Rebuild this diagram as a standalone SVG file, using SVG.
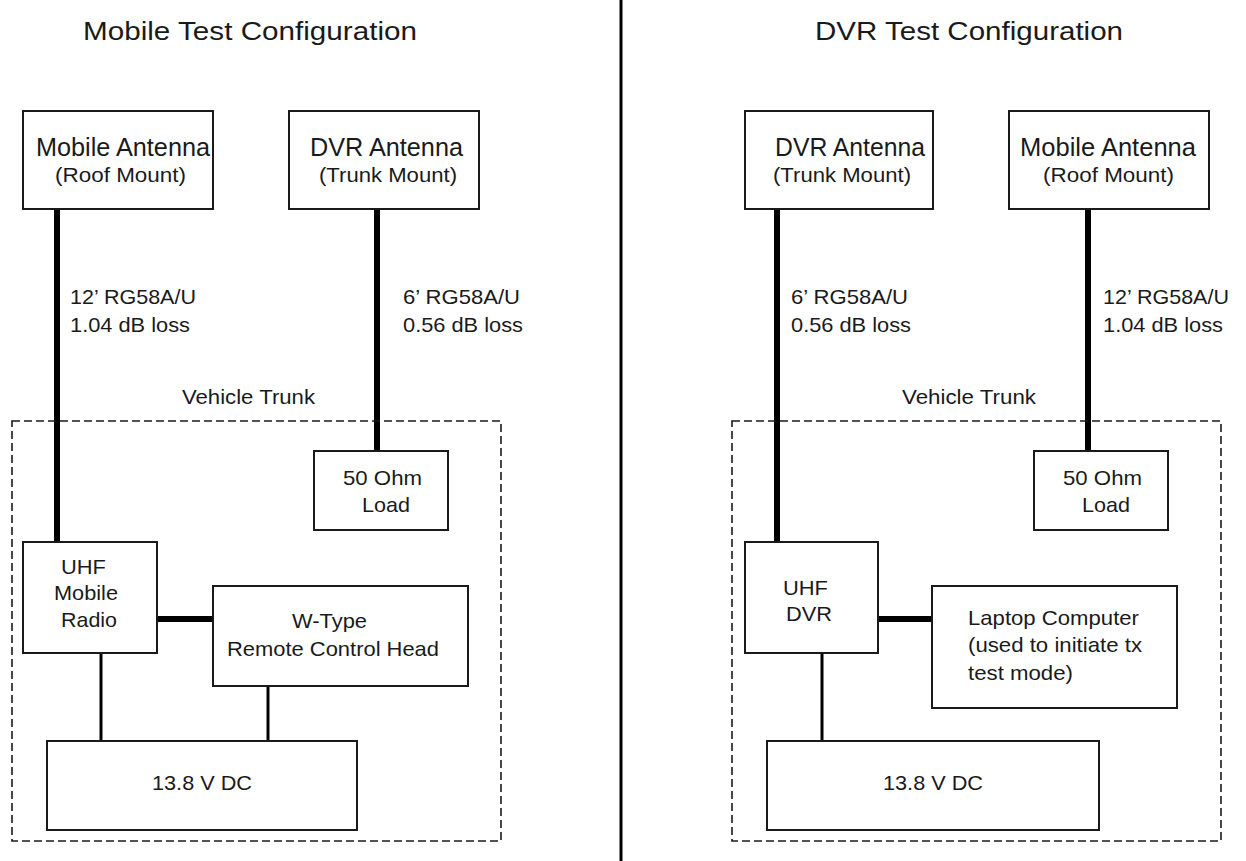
<svg xmlns="http://www.w3.org/2000/svg" width="1246" height="861" viewBox="0 0 1246 861">
<style>
.box{fill:#fff;stroke:#1a1a1a;stroke-width:2}
.trunk{fill:none;stroke:#1a1a1a;stroke-width:1.6;stroke-dasharray:8 4}
.coax{stroke:#000;stroke-width:6;fill:none}
.wire{stroke:#000;stroke-width:3;fill:none}
text{font-family:"Liberation Sans",Arial,sans-serif;fill:#1a1a1a;font-size:21px}
.t{font-size:25px}
.big{font-size:25px}
.sub{font-size:20px}
.mid{font-size:21px}
</style>
<rect width="1246" height="861" fill="#fff"/>
<line x1="621" y1="0" x2="621" y2="861" stroke="#000" stroke-width="3"/>
<text class="t" x="83" y="40" textLength="334" lengthAdjust="spacingAndGlyphs">Mobile Test Configuration</text>
<text class="t" x="815" y="40" textLength="308" lengthAdjust="spacingAndGlyphs">DVR Test Configuration</text>

<g id="connectors">
<line class="coax" x1="57" y1="209" x2="57" y2="542"/>
<line class="coax" x1="377" y1="209" x2="377" y2="451"/>
<line class="coax" x1="157" y1="619" x2="213" y2="619"/>
<line class="wire" x1="101" y1="653" x2="101" y2="741"/>
<line class="wire" x1="268" y1="686" x2="268" y2="741"/>
<line class="coax" x1="777" y1="209" x2="777" y2="542"/>
<line class="coax" x1="1088" y1="209" x2="1088" y2="451"/>
<line class="coax" x1="878" y1="619" x2="932" y2="619"/>
<line class="wire" x1="822" y1="653" x2="822" y2="741"/>
</g>

<g id="cable-labels">
<text class="mid" x="70" y="304" textLength="126" lengthAdjust="spacingAndGlyphs">12’ RG58A/U</text>
<text class="mid" x="70" y="332" textLength="120" lengthAdjust="spacingAndGlyphs">1.04 dB loss</text>
<text class="mid" x="403" y="304" textLength="117" lengthAdjust="spacingAndGlyphs">6’ RG58A/U</text>
<text class="mid" x="403" y="332" textLength="120" lengthAdjust="spacingAndGlyphs">0.56 dB loss</text>
<text class="mid" x="791" y="304" textLength="117" lengthAdjust="spacingAndGlyphs">6’ RG58A/U</text>
<text class="mid" x="791" y="332" textLength="120" lengthAdjust="spacingAndGlyphs">0.56 dB loss</text>
<text class="mid" x="1103" y="304" textLength="126" lengthAdjust="spacingAndGlyphs">12’ RG58A/U</text>
<text class="mid" x="1103" y="332" textLength="120" lengthAdjust="spacingAndGlyphs">1.04 dB loss</text>
</g>

<g id="trunk-left">
<rect class="trunk" x="12" y="421" width="489" height="420"/>
<text class="mid" x="182" y="404" textLength="133" lengthAdjust="spacingAndGlyphs">Vehicle Trunk</text>
</g>
<g id="trunk-right">
<rect class="trunk" x="732" y="421" width="489" height="420"/>
<text class="mid" x="902" y="404" textLength="134" lengthAdjust="spacingAndGlyphs">Vehicle Trunk</text>
</g>

<g id="mobile-antenna-l">
<rect class="box" x="23" y="111" width="190" height="98"/>
<text class="big" x="36" y="156" textLength="174" lengthAdjust="spacingAndGlyphs">Mobile Antenna</text>
<text class="sub" x="55" y="182" textLength="131" lengthAdjust="spacingAndGlyphs">(Roof Mount)</text>
</g>
<g id="dvr-antenna-l">
<rect class="box" x="289" y="111" width="190" height="98"/>
<text class="big" x="310" y="156" textLength="153" lengthAdjust="spacingAndGlyphs">DVR Antenna</text>
<text class="sub" x="319" y="182" textLength="138" lengthAdjust="spacingAndGlyphs">(Trunk Mount)</text>
</g>
<g id="load-l">
<rect class="box" x="314" y="451" width="134" height="79"/>
<text class="mid" x="343" y="485" textLength="79" lengthAdjust="spacingAndGlyphs">50 Ohm</text>
<text class="mid" x="362" y="512" textLength="48" lengthAdjust="spacingAndGlyphs">Load</text>
</g>
<g id="uhf-radio">
<rect class="box" x="23" y="542" width="134" height="111"/>
<text class="mid" x="61" y="574" textLength="45" lengthAdjust="spacingAndGlyphs">UHF</text>
<text class="mid" x="54" y="600" textLength="64" lengthAdjust="spacingAndGlyphs">Mobile</text>
<text class="mid" x="61" y="627" textLength="56" lengthAdjust="spacingAndGlyphs">Radio</text>
</g>
<g id="control-head">
<rect class="box" x="213" y="586" width="255" height="100"/>
<text class="mid" x="292" y="628" textLength="75" lengthAdjust="spacingAndGlyphs">W-Type</text>
<text class="mid" x="227" y="656" textLength="212" lengthAdjust="spacingAndGlyphs">Remote Control Head</text>
</g>
<g id="dc-l">
<rect class="box" x="47" y="741" width="310" height="89"/>
<text class="mid" x="152" y="790" textLength="100" lengthAdjust="spacingAndGlyphs">13.8 V DC</text>
</g>

<g id="dvr-antenna-r">
<rect class="box" x="745" y="111" width="188" height="98"/>
<text class="big" x="775" y="156" textLength="150" lengthAdjust="spacingAndGlyphs">DVR Antenna</text>
<text class="sub" x="773" y="182" textLength="138" lengthAdjust="spacingAndGlyphs">(Trunk Mount)</text>
</g>
<g id="mobile-antenna-r">
<rect class="box" x="1009" y="111" width="200" height="98"/>
<text class="big" x="1020" y="156" textLength="176" lengthAdjust="spacingAndGlyphs">Mobile Antenna</text>
<text class="sub" x="1043" y="182" textLength="131" lengthAdjust="spacingAndGlyphs">(Roof Mount)</text>
</g>
<g id="load-r">
<rect class="box" x="1034" y="451" width="134" height="79"/>
<text class="mid" x="1063" y="485" textLength="79" lengthAdjust="spacingAndGlyphs">50 Ohm</text>
<text class="mid" x="1082" y="512" textLength="48" lengthAdjust="spacingAndGlyphs">Load</text>
</g>
<g id="uhf-dvr">
<rect class="box" x="745" y="542" width="133" height="111"/>
<text class="mid" x="783" y="595" textLength="45" lengthAdjust="spacingAndGlyphs">UHF</text>
<text class="mid" x="786" y="621" textLength="46" lengthAdjust="spacingAndGlyphs">DVR</text>
</g>
<g id="laptop">
<rect class="box" x="932" y="586" width="245" height="122"/>
<text class="mid" x="968" y="625" textLength="171" lengthAdjust="spacingAndGlyphs">Laptop Computer</text>
<text class="mid" x="968" y="652" textLength="174" lengthAdjust="spacingAndGlyphs">(used to initiate tx</text>
<text class="mid" x="968" y="680" textLength="105" lengthAdjust="spacingAndGlyphs">test mode)</text>
</g>
<g id="dc-r">
<rect class="box" x="767" y="741" width="332" height="89"/>
<text class="mid" x="883" y="790" textLength="100" lengthAdjust="spacingAndGlyphs">13.8 V DC</text>
</g>
</svg>
